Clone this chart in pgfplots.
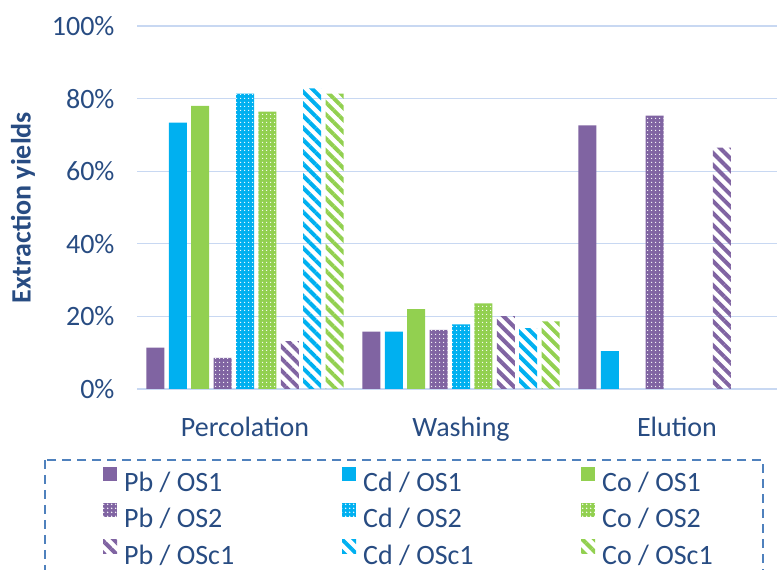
\documentclass[border=0pt]{standalone}
\usepackage{fontspec}
\setmainfont{Carlito}
\usepackage{pgfplots}
\pgfplotsset{compat=1.18}
\usetikzlibrary{patterns.meta}
\definecolor{pbc}{RGB}{128,100,162}
\definecolor{cdc}{RGB}{0,176,240}
\definecolor{coc}{RGB}{146,208,80}
\definecolor{txt}{RGB}{40,76,130}
\definecolor{gridc}{RGB}{200,216,242}
\definecolor{legc}{RGB}{79,129,189}
\newcommand{\bigf}{\fontsize{28bp}{33bp}\selectfont}
\begin{document}
\begin{tikzpicture}
\useasboundingbox (0,0) rectangle (777bp,570bp);
\begin{axis}[
  at={(137bp,181bp)}, anchor=south west,
  scale only axis, width=648bp, height=363bp,
  ybar, bar width=18bp,
  xmin=-0.5, xmax=2.5, ymin=0, ymax=100,
  xtick={0,1,2}, xticklabels={Percolation,Washing,Elution},
  ytick={0,20,40,60,80,100}, yticklabels={0\%,20\%,40\%,60\%,80\%,100\%},
  ymajorgrids, grid style={draw=gridc, line width=1.2bp},
  axis line style={draw=none}, tick style={draw=none},
  ticklabel style={font=\bigf, text=txt},
  yticklabel style={xshift=-19bp},
  xticklabel style={yshift=-20bp},
  ylabel={Extraction yields},
  ylabel style={font=\bigf\bfseries, text=txt, at={(axis description cs:-0.176,0.5)}, anchor=center},
  legend columns=3,
  legend cell align=left,
  legend style={draw=none, fill=none, at={(axis description cs:-0.0525,-0.21)}, anchor=north west,
    inner sep=0pt, column sep=0pt, row sep=0pt, font=\bigf, text=txt,
    nodes={inner xsep=7bp, inner ysep=0bp, text height=26bp, text depth=10.5bp}},
  legend image code/.code={\path[#1] (0bp,3bp) rectangle (14bp,17bp);},
]
% OS1
\addplot[fill=pbc, draw=none, bar shift=-89.6bp] coordinates {(0,11.4) (1,15.8) (2,72.6)};
\addlegendentry{\makebox[211bp][l]{Pb / OS1}}
\addplot[fill=cdc, draw=none, bar shift=-67.2bp] coordinates {(0,73.4) (1,15.8) (2,10.4)};
\addlegendentry{\makebox[211bp][l]{Cd / OS1}}
\addplot[fill=coc, draw=none, bar shift=-44.8bp] coordinates {(0,78.0) (1,22.0)};
\addlegendentry{Co / OS1}
% OS2
\addplot[fill=pbc, draw=none, bar shift=-22.4bp, postaction={pattern={Dots[distance=3.6bp,radius=0.8bp]}, pattern color=white}] coordinates {(0,8.6) (1,16.3) (2,75.3)};
\addlegendentry{\makebox[211bp][l]{Pb / OS2}}
\addplot[fill=cdc, draw=none, bar shift=0bp, postaction={pattern={Dots[distance=3.6bp,radius=0.8bp]}, pattern color=white}] coordinates {(0,81.4) (1,17.8)};
\addlegendentry{\makebox[211bp][l]{Cd / OS2}}
\addplot[fill=coc, draw=none, bar shift=22.4bp, postaction={pattern={Dots[distance=3.6bp,radius=0.8bp]}, pattern color=white}] coordinates {(0,76.4) (1,23.6)};
\addlegendentry{Co / OS2}
% OSc1
\addplot[draw=none, bar shift=44.8bp, pattern={Lines[angle=-45,distance=8.5bp,line width=4bp]}, pattern color=pbc] coordinates {(0,13.2) (1,20.1) (2,66.5)};
\addlegendentry{\makebox[211bp][l]{Pb / OSc1}}
\addplot[draw=none, bar shift=67.2bp, pattern={Lines[angle=-45,distance=8.5bp,line width=4bp]}, pattern color=cdc] coordinates {(0,82.8) (1,16.8)};
\addlegendentry{\makebox[211bp][l]{Cd / OSc1}}
\addplot[draw=none, bar shift=89.6bp, pattern={Lines[angle=-45,distance=8.5bp,line width=4bp]}, pattern color=coc] coordinates {(0,81.4) (1,18.6)};
\addlegendentry{Co / OSc1}
\end{axis}
\draw[legc, line width=2bp, dash pattern=on 9bp off 6bp] (45bp,110bp) rectangle (763bp,-40bp);
\end{tikzpicture}
\end{document}
